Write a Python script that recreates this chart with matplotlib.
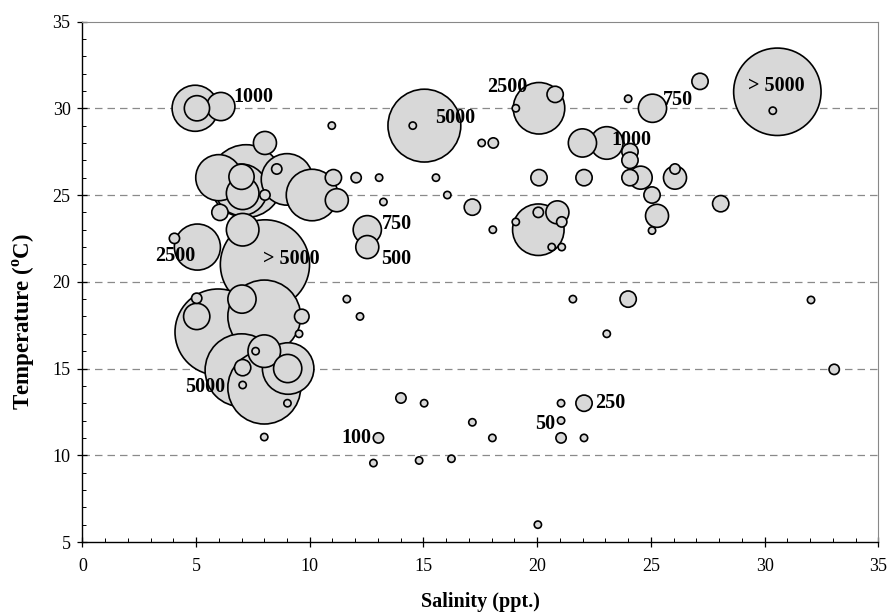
import numpy as np
import matplotlib
matplotlib.use("Agg")
import matplotlib.pyplot as plt
from matplotlib.ticker import MultipleLocator

plt.rcParams['font.family'] = ['Liberation Serif', 'DejaVu Serif']
plt.rcParams['mathtext.fontset'] = 'custom'
plt.rcParams['mathtext.rm'] = 'Liberation Serif:bold'
plt.rcParams['mathtext.bf'] = 'Liberation Serif:bold'

# ---- data: salinity (ppt), temperature (C), abundance (bubble size) ----
salinity = [4.96, 5.04, 6.09, 8.03, 6.0, 7.2, 7.0, 7.0, 7.05, 8.55, 8.03, 9.0, 10.1,
            11.04, 11.19, 6.05, 7.05, 5.06, 4.05, 8.03,
            5.97, 5.03, 5.03, 7.02, 8.0, 9.65, 9.53, 8.0, 7.62, 7.0, 7.05, 8.0, 7.05,
            9.02, 9.05, 9.03, 8.0,
            10.97, 15.04, 14.53, 17.56, 18.07, 12.04, 13.05, 15.55, 16.05, 13.24, 17.15,
            12.53, 12.53, 18.05, 11.63, 12.21, 14.01, 15.03, 17.15, 13.02, 18.03, 12.8,
            14.81, 16.23,
            20.08, 20.79, 19.06, 24.0, 21.99, 23.06, 20.08, 22.06, 20.05, 20.89, 20.05,
            19.06, 21.08, 20.64, 21.08, 21.57, 24.0, 23.06, 21.05, 22.06, 21.05, 21.05,
            22.06, 20.03,
            30.56, 30.36, 27.16, 25.07, 24.08, 24.08, 24.08, 24.55, 26.06, 26.06, 25.05,
            28.07, 25.27, 25.05, 32.04, 33.06]
temperature = [30.0, 30.0, 30.1, 28.0, 26.0, 25.8, 25.3, 26.05, 25.1, 26.5, 25.0, 25.9, 25.0,
               26.0, 24.7, 24.0, 23.0, 22.0, 22.5, 21.0,
               17.1, 18.0, 19.05, 19.0, 18.0, 18.0, 17.0, 16.0, 16.0, 14.9, 15.05, 13.9, 14.05,
               13.0, 15.0, 15.0, 11.05,
               29.0, 29.0, 29.0, 28.0, 28.0, 26.0, 26.0, 26.0, 25.0, 24.6, 24.3,
               23.0, 22.0, 23.0, 19.0, 18.0, 13.3, 13.0, 11.9, 11.0, 11.0, 9.55,
               9.7, 9.8,
               30.0, 30.8, 30.0, 30.55, 28.0, 28.0, 26.0, 26.0, 23.0, 24.0, 24.0,
               23.45, 23.45, 22.0, 22.0, 19.0, 19.0, 17.0, 13.0, 13.0, 12.0, 11.0,
               11.0, 6.0,
               30.95, 29.86, 31.55, 30.0, 27.5, 27.0, 26.0, 26.0, 26.0, 26.5, 25.0,
               24.5, 23.8, 22.95, 18.95, 14.95]
abundance = [2000, 600, 750, 500, 2000, 5000, 2500, 600, 1000, 100, 100, 2500, 2500,
             250, 500, 250, 1000, 2000, 100, 7500,
             7000, 650, 100, 750, 5000, 200, 50, 1000, 50, 5000, 250, 5000, 50,
             50, 2500, 750, 50,
             50, 5000, 50, 50, 100, 100, 50, 50, 50, 50, 250,
             750, 500, 50, 50, 50, 100, 50, 50, 100, 50, 50,
             50, 50,
             2500, 250, 50, 50, 750, 1000, 250, 250, 2500, 500, 100,
             50, 100, 50, 50, 50, 250, 50, 50, 250, 50, 100,
             50, 50,
             7200, 50, 250, 750, 250, 250, 250, 500, 500, 100, 250,
             250, 500, 50, 50, 100]

label_text = ["1000", "2500", "> 5000", "5000", "5000", "750", "500", "2500",
              "1000", "750", "> 5000", "100", "50", "250"]
label_x = [7.5, 4.07, 9.2, 5.4, 16.4, 13.84, 13.8, 18.67, 24.13, 26.2, 30.5, 12.04, 20.35, 23.2]
label_y = [30.65, 21.5, 21.3, 13.95, 29.45, 23.33, 21.31, 31.24, 28.17, 30.48, 31.3, 11.0, 11.8, 13.0]

grid_levels = [10, 15, 20, 25, 30]

# ---- figure ----
fig = plt.figure(figsize=(8.88, 6.13), dpi=100)
ax = fig.add_axes([0.0927, 0.1158, 0.8964, 0.8491])

for g in grid_levels:
    ax.axhline(g, color='#8a8a8a', lw=0.9, ls=(0, (6, 4)), zorder=1)

sal = np.array(salinity)
tem = np.array(temperature)
ab = np.array(abundance, dtype=float)
order = np.argsort(-ab, kind='stable')
ax.scatter(sal[order], tem[order], s=ab[order] * 0.55, facecolor='#d8d8d8',
           edgecolor='black', linewidth=1.2, zorder=3)

for t, x, y in zip(label_text, label_x, label_y):
    ax.text(x, y, t, ha='center', va='center', fontsize=14.5, fontweight='bold', zorder=5)

ax.set_xlim(0, 35)
ax.set_ylim(5, 35)
ax.xaxis.set_major_locator(MultipleLocator(5))
ax.xaxis.set_minor_locator(MultipleLocator(1))
ax.yaxis.set_major_locator(MultipleLocator(5))
ax.yaxis.set_minor_locator(MultipleLocator(1))
ax.tick_params(which='major', direction='inout', length=7, width=0.9, labelsize=13, pad=5)
ax.tick_params(axis='x', which='major', pad=8)
ax.tick_params(which='minor', direction='in', length=3, width=0.7)

for side in ['top', 'right']:
    ax.spines[side].set_color('#888888')
    ax.spines[side].set_linestyle((0, (1, 1)))
    ax.spines[side].set_linewidth(0.8)
for side in ['left', 'bottom']:
    ax.spines[side].set_color('black')
    ax.spines[side].set_linewidth(1.0)

ax.set_xlabel('Salinity (ppt.)', fontsize=14.5, fontweight='bold', labelpad=12)
ax.set_ylabel(r'Temperature ($^{\mathbf{o}}$C)', fontsize=16.5, fontweight='bold')
ax.yaxis.set_label_coords(-0.057, 0.423)

fig.savefig('out.png', dpi=100)
